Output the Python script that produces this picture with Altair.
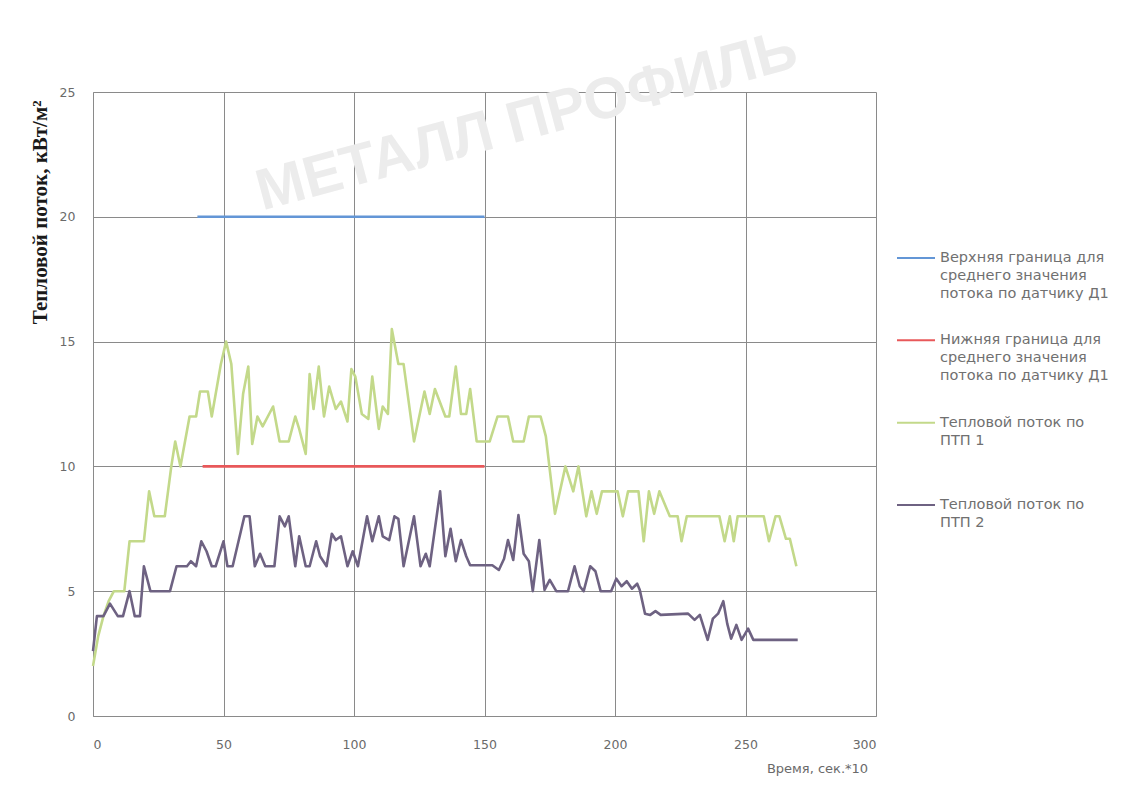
import altair as alt
import pandas as pd

# ---- data ----
ptp1_x = [0, 2, 4, 6, 8, 12, 14, 19.5, 21.5, 23.5, 27.5, 30, 31.5, 33.5, 37, 39.5, 41, 44, 45.5, 49, 51,
          53, 55.5, 57.5, 59.5, 61, 63, 65, 69, 71.5, 75, 77.5, 79, 81.5, 83, 84.5, 86.5, 88.5, 90.5,
          93, 95, 97.5, 99, 100.5, 103, 105.5, 107, 109.5, 111, 113, 114.5, 117, 119, 123, 127, 129,
          131, 135, 136.5, 139, 141, 143, 144.5, 147, 152, 155, 159, 161, 165, 167, 171.5, 173.5, 177,
          181, 184, 186, 189, 191, 193, 195, 201, 203, 205, 209, 211, 213, 215, 217, 221, 224, 225.5,
          227.5, 240, 242, 244, 245.5, 247, 257, 259, 261.5, 263, 265.5, 267, 269.5]
ptp1_y = [2, 3.2, 4, 4.6, 5, 5, 7, 7, 9, 8, 8, 10, 11, 10, 12, 12, 13, 13, 12, 14.1, 15,
          14.1, 10.5, 12.9, 14, 10.9, 12, 11.6, 12.4, 11, 11, 12, 11.5, 10.5, 13.7, 12.3, 14, 12, 13.2,
          12.3, 12.6, 11.8, 13.9, 13.6, 12.1, 11.9, 13.6, 11.5, 12.4, 12.1, 15.5, 14.1, 14.1, 11, 13, 12.1,
          13.1, 12, 12, 14, 12.1, 12.1, 13.1, 11, 11, 12, 12, 11, 11, 12, 12, 11.2, 8.1,
          10, 9, 10, 8, 9, 8.1, 9, 9, 8, 9, 9, 7, 9, 8.1, 9, 8, 8, 7,
          8, 8, 7, 8, 7, 8, 8, 7, 8, 8, 7.1, 7.1, 6]

ptp2_x = [0, 1.5, 4, 6.5, 9.5, 11.5, 14, 16, 18, 19.5, 22, 29.5, 32, 36, 37.5, 39.5, 41.5, 43.5, 45.5,
          47, 50, 51.5, 53.5, 58, 60, 62, 64, 66, 69.5, 71.5, 73.5, 75, 77.5, 79, 81.5, 83, 85.5, 87,
          89.5, 91.5, 93, 95, 97.5, 99.5, 101.5, 105, 107, 109.5, 111, 113.5, 115.5, 117, 119, 123,
          125.5, 127.5, 129, 133, 135, 137, 139, 141, 143, 144.5, 153, 155.5, 157.5, 159, 161, 163,
          165, 167, 168.5, 171, 173, 175, 177.5, 182, 184.5, 186.5, 188, 190.5, 192.5, 194.5, 198.5,
          200.5, 202.5, 204.5, 206.5, 208.5, 209.5, 211.5, 213.5, 215.5, 217.5, 228, 230.5, 232.5,
          235.5, 237.5, 239.5, 241.5, 243, 244.5, 246.5, 248.5, 251, 253, 270]
ptp2_y = [2.6, 4, 4, 4.5, 4, 4, 5, 4, 4, 6, 5, 5, 6, 6, 6.2, 6, 7, 6.6, 6,
          6, 7, 6, 6, 8, 8, 6, 6.5, 6, 6, 8, 7.6, 8, 6, 7.2, 6, 6, 7, 6.4,
          6, 7.3, 7.05, 7.2, 6, 6.6, 6, 8, 7, 8, 7.2, 7.05, 8, 7.9, 6, 8,
          6, 6.5, 6, 9, 6.4, 7.5, 6.2, 7.05, 6.4, 6.04, 6.04, 5.85, 6.3, 7.05, 6.25, 8.05,
          6.5, 6.2, 5, 7.05, 5.05, 5.45, 5, 5, 6, 5.2, 5, 6, 5.8, 5, 5,
          5.5, 5.2, 5.4, 5.1, 5.3, 5.05, 4.1, 4.05, 4.2, 4.05, 4.1, 3.85, 4.05,
          3.05, 3.9, 4.1, 4.6, 3.7, 3.1, 3.65, 3.05, 3.5, 3.05, 3.05]

upper_x = [40, 150]
upper_y = [20, 20]
lower_x = [42, 150]
lower_y = [10, 10]

series_names = [
    "Верхняя граница для среднего значения потока по датчику Д1",
    "Нижняя граница для среднего значения потока по датчику Д1",
    "Тепловой поток по ПТП 1",
    "Тепловой поток по ПТП 2",
]
legend_labels = [
    "Верхняя граница для\nсреднего значения\nпотока по датчику Д1",
    "Нижняя граница для\nсреднего значения\nпотока по датчику Д1",
    "Тепловой поток по\nПТП 1",
    "Тепловой поток по\nПТП 2",
]
series_colors = ["#6396d6", "#e8585a", "#c3d98a", "#6e6282"]
series_widths = [2.6, 2.6, 1.7, 1.7]

x_ticks = [0, 50, 100, 150, 200, 250, 300]
y_ticks = [0, 5, 10, 15, 20, 25]
watermark_text = "МЕТАЛЛ ПРОФИЛЬ"

# ---- tables ----
rows = []
for name, xs, ys in [(series_names[0], upper_x, upper_y),
                     (series_names[1], lower_x, lower_y),
                     (series_names[2], ptp1_x, ptp1_y),
                     (series_names[3], ptp2_x, ptp2_y)]:
    for xv, yv in zip(xs, ys):
        rows.append({"series": name, "x": xv, "y": yv})
df = pd.DataFrame(rows)

df_leg = pd.DataFrame({"series": series_names, "label": legend_labels,
                       "order": list(range(len(series_names)))})
df_wm = pd.DataFrame({"t": [watermark_text]})

grey = "#8a8a8a"
label_grey = "#6a6a6a"

color_scale = alt.Scale(domain=series_names, range=series_colors)

lines = alt.Chart(df).mark_line(strokeJoin="round").encode(
    x=alt.X("x:Q",
            scale=alt.Scale(domain=[0, 300], nice=False),
            axis=alt.Axis(values=x_ticks, title="Время, сек.*10", grid=True,
                          gridColor=grey, domainColor=grey, ticks=False,
                          labelFont="DejaVu Sans", labelFontSize=12.5, labelColor=label_grey,
                          labelPadding=22,
                          titleFont="DejaVu Sans", titleFontSize=13, titleFontWeight="normal",
                          titleColor=label_grey, titleX=724, titleY=52,
                          titleAlign="center", titleBaseline="middle")),
    y=alt.Y("y:Q",
            scale=alt.Scale(domain=[0, 25], nice=False),
            axis=alt.Axis(values=y_ticks, title="Тепловой поток, кВт/м²", grid=True,
                          gridColor=grey, domainColor=grey, ticks=False,
                          labelFont="DejaVu Sans", labelFontSize=12.5, labelColor=label_grey,
                          labelPadding=18,
                          titleFont="Liberation Serif", titleFontSize=21, titleFontWeight="bold",
                          titleColor="#1a1a1a", titleX=-53, titleY=8,
                          titleAlign="right", titleBaseline="middle")),
    color=alt.Color("series:N", scale=color_scale, legend=None),
    strokeWidth=alt.StrokeWidth("series:N",
                                scale=alt.Scale(domain=series_names, range=series_widths),
                                legend=None),
)

leg_y = alt.Y("order:O", axis=None, scale=alt.Scale(type="point", range=[166, 413], padding=0))

legend_rules = alt.Chart(df_leg).mark_rule(strokeWidth=2).encode(
    x=alt.value(804), x2=alt.value(842), y=leg_y,
    color=alt.Color("series:N", scale=color_scale, legend=None),
)

legend_text = alt.Chart(df_leg).mark_text(
    align="left", baseline="middle", lineBreak="\n", lineHeight=18,
    font="DejaVu Sans", fontSize=14.5, color="#707070",
).encode(x=alt.value(847), y=leg_y, text="label:N")

watermark = alt.Chart(df_wm).mark_text(
    font="Liberation Sans", fontSize=58, fontWeight="bold", color="#ececec",
    angle=345, align="center", baseline="middle",
).encode(x=alt.value(434), y=alt.value(30), text="t:N")

chart = alt.layer(watermark, lines, legend_rules, legend_text).resolve_scale(
    y="independent"
).properties(
    width=783, height=624,
    padding={"left": 85, "top": 84, "right": 240, "bottom": 70},
    autosize=alt.AutoSizeParams(type="none"),
    background="white",
).configure_view(stroke=None)

chart.save("out.html", embed_options={"renderer": "svg", "actions": False})
